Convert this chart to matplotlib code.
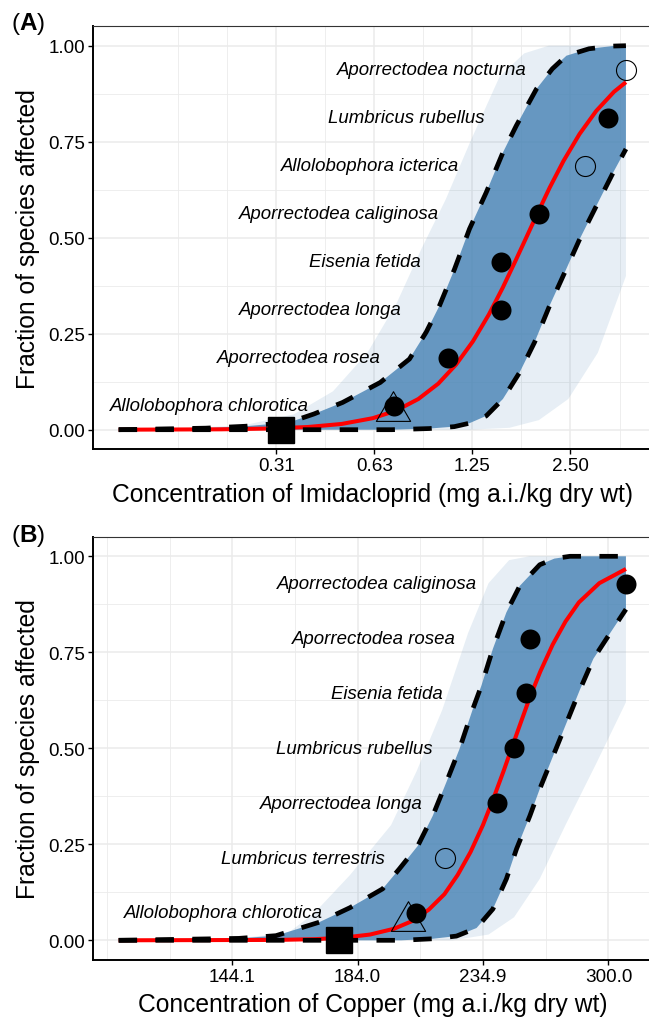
import matplotlib
matplotlib.use("Agg")
import matplotlib.pyplot as plt
from matplotlib.path import Path
import numpy as np

plt.rcParams['font.family'] = ['Liberation Sans', 'DejaVu Sans']
plt.rcParams['mathtext.fontset'] = 'custom'
plt.rcParams['mathtext.rm'] = 'Liberation Sans'
plt.rcParams['mathtext.bf'] = 'Liberation Sans:bold'

# ---------------- Panel A: Imidacloprid ----------------
imi_species = ["Allolobophora chlorotica", "Aporrectodea rosea", "Aporrectodea longa",
               "Eisenia fetida", "Aporrectodea caliginosa", "Allolobophora icterica",
               "Lumbricus rubellus", "Aporrectodea nocturna"]
imi_conc = [0.717, 1.050, 1.525, 1.535, 2.001, 2.780, 3.249, 3.70]
imi_frac = [0.0625, 0.1875, 0.3125, 0.4375, 0.5625, 0.6875, 0.8125, 0.9375]
imi_open = [False, False, False, False, False, True, False, True]
imi_label_conc = [0.393, 0.653, 0.758, 0.868, 0.988, 1.136, 1.36, 1.83]
imi_hc5 = 0.712
imi_hc5_low = 0.322

imi_fit_conc = [0.1025, 0.212, 0.299, 0.390, 0.496, 0.618, 0.730, 0.853, 0.982, 1.114, 1.254,
                1.404, 1.549, 1.695, 1.828, 1.971, 2.157, 2.380, 2.665, 2.998, 3.401, 3.70]
imi_fit_frac = [0.0, 0.001, 0.003, 0.007, 0.015, 0.03, 0.05, 0.08, 0.12, 0.17, 0.23,
                0.30, 0.37, 0.44, 0.50, 0.56, 0.63, 0.70, 0.77, 0.83, 0.88, 0.905]
imi_upper_conc = [0.1025, 0.1895, 0.2513, 0.3420, 0.4078, 0.4993, 0.6514, 0.8007, 0.9013, 0.9903,
                  1.1011, 1.2244, 1.3783, 1.5507, 1.7052, 1.9642, 2.20, 2.4301, 2.85, 3.3683, 3.70]
imi_upper_frac = [0.0, 0.004, 0.009, 0.019, 0.041, 0.071, 0.123, 0.184, 0.254, 0.323,
                  0.418, 0.523, 0.618, 0.722, 0.792, 0.887, 0.940, 0.974, 0.992, 0.999, 1.0]
imi_lower_conc = [0.1025, 0.7071, 0.9221, 1.10, 1.2244, 1.3783, 1.5507, 1.7446, 1.9401,
                  2.1571, 2.4016, 2.6703, 3.0398, 3.3823, 3.70]
imi_lower_frac = [0.0, 0.0, 0.003, 0.008, 0.017, 0.036, 0.080, 0.149, 0.228,
                  0.323, 0.410, 0.497, 0.592, 0.670, 0.731]
# faint spread of the bootstrap curves
imi_env_left_conc = [0.1340, 0.25, 0.3536, 0.4665, 0.5946, 0.7320, 0.8706, 1.0353, 1.2311,
                     1.5157, 1.8025, 2.1435, 3.70]
imi_env_left_frac = [0.0, 0.012, 0.04, 0.10, 0.20, 0.33, 0.47, 0.60, 0.75, 0.92, 0.98, 1.0, 1.0]
imi_env_right_conc = [3.70, 3.0314, 2.4623, 2.0, 1.6245, 1.2311]
imi_env_right_frac = [0.40, 0.20, 0.08, 0.025, 0.005, 0.0]
imi_ticks = [0.3125, 0.625, 1.25, 2.5]
imi_ticklabels = ["0.31", "0.63", "1.25", "2.50"]
imi_minor = [0.15625, 0.221, 0.442, 0.884, 1.768, 3.536]

# ---------------- Panel B: Copper ----------------
cu_species = ["Allolobophora chlorotica", "Lumbricus terrestris", "Aporrectodea longa",
              "Lumbricus rubellus", "Eisenia fetida", "Aporrectodea rosea",
              "Aporrectodea caliginosa"]
cu_conc = [206.2, 218.0, 241.2, 249.6, 255.4, 257.4, 310.4]
cu_frac = [0.0714, 0.2143, 0.3571, 0.5, 0.6429, 0.7857, 0.9286]
cu_open = [False, True, False, False, False, False, False]
cu_label_conc = [172.1, 194.2, 208.7, 213.1, 217.4, 222.7, 232.3]
cu_hc5 = 203.0
cu_hc5_low = 177.3

cu_fit_conc = [115.5, 157.4, 169.4, 179.1, 188.5, 197.5, 204.6, 211.4, 217.9, 223.6, 229.3, 234.9,
               239.8, 244.5, 248.4, 252.4, 257.2, 262.7, 269.1, 275.9, 283.2, 294.7, 310.4]
cu_fit_frac = [0.0, 0.001, 0.003, 0.007, 0.015, 0.03, 0.05, 0.08, 0.12, 0.17, 0.23, 0.30,
               0.37, 0.44, 0.50, 0.56, 0.63, 0.70, 0.77, 0.83, 0.88, 0.93, 0.967]
cu_upper_conc = [115.5, 146.0, 156.9, 170.7, 181.3, 193.2, 199.6, 206.9, 213.0, 218.7, 224.4,
                 230.3, 234.2, 239.5, 245.9, 252.4, 262.4, 270.0, 278.3, 310.4]
cu_upper_frac = [0.0, 0.005, 0.012, 0.047, 0.085, 0.134, 0.186, 0.246, 0.324, 0.411, 0.498,
                 0.602, 0.663, 0.759, 0.854, 0.923, 0.978, 0.994, 1.0, 1.0]
cu_lower_conc = [115.5, 200.3, 213.0, 223.1, 232.0, 239.5, 245.9, 250.8, 257.4, 262.4, 269.4,
                 276.6, 283.9, 291.3, 301.0, 310.4]
cu_lower_frac = [0.0, 0.0, 0.004, 0.011, 0.032, 0.0815, 0.160, 0.238, 0.324, 0.394, 0.481,
                 0.568, 0.654, 0.733, 0.800, 0.862]
cu_env_left_conc = [141.2, 160.8, 169.0, 181.3, 196.4, 206.4, 217.0, 228.2, 237.5, 247.2, 257.2, 310.4]
cu_env_left_frac = [0.0, 0.02, 0.07, 0.17, 0.30, 0.44, 0.60, 0.80, 0.93, 0.99, 1.0, 1.0]
cu_env_right_conc = [310.4, 292.9, 275.9, 262.4, 249.6, 237.5, 221.4]
cu_env_right_frac = [0.62, 0.46, 0.30, 0.16, 0.06, 0.015, 0.0]
cu_ticks = [144.1, 184.0, 234.9, 300.0]
cu_ticklabels = ["144.1", "184.0", "234.9", "300.0"]
cu_minor = [112.9, 127.6, 162.8, 207.9, 265.5]

BLUE = '#4682B4'
GRID = '#EBEBEB'

# equilateral triangle centred on its centroid (like R's pch 2)
triangle = Path([(0, 1), (-0.866, -0.5), (0.866, -0.5), (0, 1)],
                [Path.MOVETO, Path.LINETO, Path.LINETO, Path.CLOSEPOLY])


def draw_panel(ax, d, xlabel):
    # bootstrap cloud: faint spread + dense core between the CI curves
    ax.fill(d['env_l_c'] + d['env_r_c'], d['env_l_f'] + d['env_r_f'],
            color=BLUE, alpha=0.13, lw=0, zorder=1)
    ax.fill(d['up_c'] + d['lo_c'][::-1], d['up_f'] + d['lo_f'][::-1],
            color=BLUE, alpha=0.8, lw=0, zorder=1.5)

    ax.plot(d['fit_c'], d['fit_f'], color='red', lw=2.9, zorder=3, solid_capstyle='butt')
    for c, f in ((d['up_c'], d['up_f']), (d['lo_c'], d['lo_f'])):
        ax.plot(c, f, color='black', lw=3.4, dashes=(3.9, 3.9), zorder=4)

    for c, f, hollow, name, lc in zip(d['conc'], d['frac'], d['open'], d['species'], d['lab']):
        if hollow:
            ax.plot(c, f, 'o', ms=14.4, mfc='none', mec='black', mew=0.8, zorder=6)
        else:
            ax.plot(c, f, 'o', ms=14.4, mfc='black', mec='black', mew=0, zorder=6)
        ax.text(lc, f, name, ha='right', va='center', style='italic', fontsize=13.4, zorder=7)

    ax.plot(d['hc5'], 0.05, marker=triangle, ms=28.5, mfc='none', mec='black', mew=0.8, zorder=6)
    ax.plot(d['hc5_low'], 0.0, 's', ms=18.7, color='black', zorder=6)

    ax.set_xscale('log')
    lo = min(d['fit_c'])
    hi = max(d['fit_c'])
    span = np.log(hi / lo) * 0.05
    ax.set_xlim(lo * np.exp(-span), hi * np.exp(span))
    ax.set_ylim(-0.05, 1.05)

    ax.set_xticks(d['ticks'])
    ax.set_xticklabels(d['ticklabels'])
    ax.set_xticks(d['minor'], minor=True)
    ax.set_xticklabels([], minor=True)
    ax.set_yticks([0, 0.25, 0.5, 0.75, 1.0])
    ax.set_yticklabels(["0.00", "0.25", "0.50", "0.75", "1.00"])
    ax.set_yticks([0.125, 0.375, 0.625, 0.875], minor=True)

    ax.grid(which='major', color=GRID, lw=1.1, zorder=0)
    ax.grid(which='minor', color=GRID, lw=0.6, zorder=0)
    ax.set_axisbelow(True)
    ax.tick_params(which='major', length=3.5, width=1.0, pad=2.5, labelsize=13.6,
                   labelcolor='black')
    ax.tick_params(which='minor', length=0)

    for s in ('left', 'bottom'):
        ax.spines[s].set_linewidth(1.4)
        ax.spines[s].set_color('black')
    ax.spines['top'].set_linewidth(0.8)
    ax.spines['top'].set_color('#333333')
    ax.spines['right'].set_linewidth(0.8)

    ax.set_xlabel(xlabel, fontsize=17.7, va='center')
    ax.xaxis.set_label_coords(0.5, -0.1065)
    ax.set_ylabel("Fraction of species affected", fontsize=17.7, va='center')
    ax.yaxis.set_label_coords(-0.117, 0.5)


fig = plt.figure(figsize=(6.49, 10.20), dpi=100)
ax_a = fig.add_axes([93.3 / 649, 0.55892, (651.3 - 93.3) / 649, 0.41412])
ax_b = fig.add_axes([93.3 / 649, 0.05833, (651.3 - 93.3) / 649, 0.41412])

panel_a = dict(env_l_c=imi_env_left_conc, env_l_f=imi_env_left_frac,
               env_r_c=imi_env_right_conc, env_r_f=imi_env_right_frac,
               up_c=imi_upper_conc, up_f=imi_upper_frac, lo_c=imi_lower_conc, lo_f=imi_lower_frac,
               fit_c=imi_fit_conc, fit_f=imi_fit_frac, conc=imi_conc, frac=imi_frac,
               open=imi_open, species=imi_species, lab=imi_label_conc,
               hc5=imi_hc5, hc5_low=imi_hc5_low, ticks=imi_ticks,
               ticklabels=imi_ticklabels, minor=imi_minor)
panel_b = dict(env_l_c=cu_env_left_conc, env_l_f=cu_env_left_frac,
               env_r_c=cu_env_right_conc, env_r_f=cu_env_right_frac,
               up_c=cu_upper_conc, up_f=cu_upper_frac, lo_c=cu_lower_conc, lo_f=cu_lower_frac,
               fit_c=cu_fit_conc, fit_f=cu_fit_frac, conc=cu_conc, frac=cu_frac,
               open=cu_open, species=cu_species, lab=cu_label_conc,
               hc5=cu_hc5, hc5_low=cu_hc5_low, ticks=cu_ticks,
               ticklabels=cu_ticklabels, minor=cu_minor)

draw_panel(ax_a, panel_a, "Concentration of Imidacloprid (mg a.i./kg dry wt)")
draw_panel(ax_b, panel_b, "Concentration of Copper (mg a.i./kg dry wt)")

fig.text(11 / 649, 1 - 24 / 1020, r"($\mathbf{A}$)", fontsize=17.5, ha='left', va='center')
fig.text(11 / 649, 1 - 536 / 1020, r"($\mathbf{B}$)", fontsize=17.5, ha='left', va='center')

fig.savefig("out.png", dpi=100)
